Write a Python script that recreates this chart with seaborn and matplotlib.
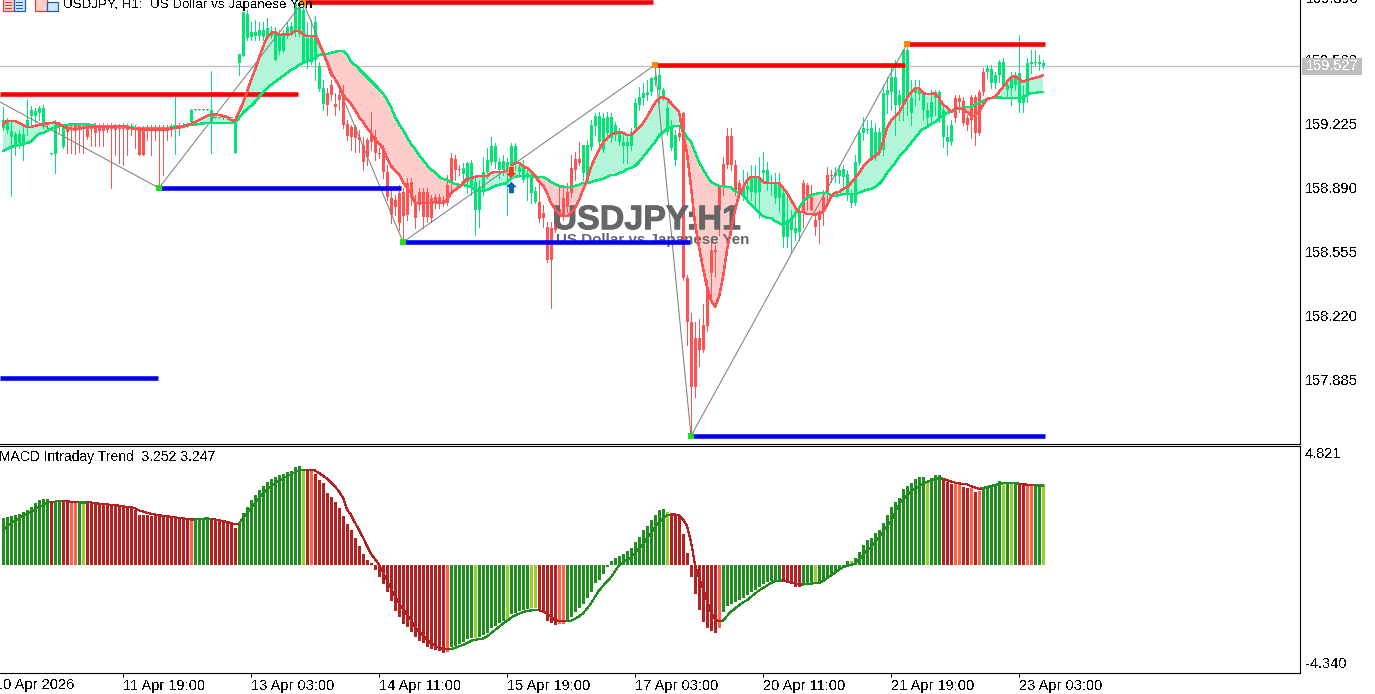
import numpy as np
import seaborn as sns
import matplotlib
matplotlib.use('Agg')
import matplotlib.pyplot as plt
import matplotlib.patheffects as pe
from matplotlib.patches import Rectangle

open_ = [
159.204,159.194,159.157,159.115,159.126,159.126,159.215,159.267,159.267,159.283,
159.209,159.230,159.068,159.068,159.225,159.105,159.209,159.204,159.220,159.220,
159.215,159.209,159.215,159.204,159.215,159.209,159.209,159.215,159.209,159.215,
159.215,159.209,159.209,159.209,159.194,159.194,159.209,159.209,159.209,159.209,
159.209,159.209,159.215,159.204,159.204,159.209,159.215,159.235,159.298,159.298,
159.298,159.298,159.230,159.256,159.256,159.256,159.256,159.256,159.073,159.544,
159.581,159.675,159.680,159.686,159.686,159.680,159.680,159.686,159.560,159.607,
159.607,159.691,159.701,159.717,159.696,159.544,159.549,159.549,159.560,159.408,
159.330,159.387,159.429,159.330,159.377,159.377,159.225,159.209,159.209,159.157,
159.115,159.141,159.167,159.157,159.073,159.099,158.974,158.838,158.827,158.864,
158.869,158.916,158.921,158.811,158.869,158.869,158.869,158.838,158.843,158.843,
158.827,158.906,159.047,159.042,158.989,158.963,158.921,158.890,158.775,158.775,
158.880,158.974,159.026,159.026,158.984,158.984,158.984,158.995,159.021,158.974,
158.932,158.942,158.864,158.817,158.817,158.759,158.686,158.681,158.780,158.780,
158.838,158.869,158.995,159.042,159.042,158.969,158.932,159.105,159.215,159.131,
159.089,159.178,159.152,159.167,159.131,159.110,159.110,159.110,159.204,159.324,
159.361,159.377,159.392,159.455,159.403,159.366,159.183,159.099,159.037,159.178,
159.283,158.419,158.189,158.105,158.105,158.173,158.372,158.565,158.565,158.895,
159.016,159.162,159.162,159.010,158.916,158.843,158.880,158.869,158.864,158.869,
158.969,158.921,158.911,158.838,158.838,158.634,158.634,158.670,158.654,158.660,
158.916,158.906,158.843,158.723,158.764,158.843,158.958,158.958,158.953,158.953,
158.948,158.853,158.811,158.811,159.021,159.178,159.194,159.047,159.052,159.078,
159.089,159.377,159.392,159.324,159.324,159.324,159.361,159.283,159.387,159.382,
159.298,159.256,159.262,159.361,159.256,159.157,159.131,159.131,159.361,159.361,
159.345,159.256,159.366,159.366,159.392,159.497,159.497,159.440,159.440,159.481,
159.429,159.403,159.413,159.429,159.335,159.335,159.377,159.539,159.544,159.539,
159.529]
close = [
159.246,159.235,159.188,159.173,159.173,159.173,159.246,159.298,159.293,159.309,
159.309,159.220,159.073,159.220,159.215,159.215,159.183,159.194,159.204,159.204,
159.199,159.157,159.199,159.178,159.188,159.188,159.194,159.199,159.194,159.199,
159.199,159.194,159.199,159.194,159.063,159.063,159.194,159.194,159.194,159.194,
159.194,159.199,159.199,159.220,159.220,159.220,159.225,159.298,159.303,159.303,
159.303,159.303,159.298,159.262,159.262,159.262,159.262,159.262,159.230,159.591,
159.811,159.801,159.706,159.706,159.717,159.717,159.727,159.712,159.701,159.691,
159.686,159.733,159.738,159.853,159.832,159.822,159.675,159.680,159.759,159.529,
159.413,159.324,159.377,159.314,159.351,159.220,159.162,159.157,159.152,159.141,
159.026,159.052,159.131,159.073,159.068,158.974,158.843,158.749,158.791,158.707,
158.743,158.749,158.838,158.733,158.801,158.738,158.738,158.733,158.811,158.811,
158.811,158.811,158.916,158.984,158.984,158.995,159.021,159.021,158.921,158.895,
158.974,159.037,159.110,159.110,159.026,159.031,159.026,159.110,159.110,159.000,
159.010,158.969,158.948,158.874,158.728,158.733,158.513,158.513,158.670,158.738,
158.738,158.791,158.864,158.984,159.021,159.115,159.115,159.220,159.267,159.267,
159.256,159.262,159.262,159.220,159.178,159.131,159.131,159.183,159.335,159.366,
159.387,159.392,159.466,159.471,159.481,159.403,159.309,159.209,159.167,159.157,
158.419,158.189,157.848,157.848,158.042,158.042,158.168,158.445,158.555,158.775,
158.906,159.010,159.010,158.880,158.864,158.890,158.901,158.948,158.948,158.948,
158.984,158.984,158.916,158.916,158.921,158.864,158.723,158.723,158.681,158.759,
158.759,158.838,158.775,158.686,158.723,158.764,158.864,158.953,158.969,158.984,
158.989,158.963,158.864,159.026,159.178,159.204,159.199,159.204,159.183,159.183,
159.387,159.403,159.471,159.471,159.377,159.612,159.612,159.361,159.419,159.413,
159.382,159.298,159.340,159.392,159.392,159.298,159.157,159.220,159.256,159.340,
159.230,159.220,159.246,159.178,159.178,159.392,159.518,159.513,159.481,159.549,
159.549,159.429,159.466,159.466,159.492,159.377,159.544,159.549,159.549,159.549,
159.544]
high = [
159.314,159.256,159.235,159.183,159.194,159.220,159.356,159.319,159.309,159.319,
159.324,159.235,159.073,159.246,159.235,159.220,159.220,159.220,159.225,159.225,
159.225,159.225,159.225,159.230,159.225,159.230,159.225,159.230,159.225,159.225,
159.230,159.225,159.225,159.220,159.215,159.215,159.220,159.220,159.220,159.220,
159.220,159.220,159.225,159.366,159.230,159.230,159.230,159.303,159.303,159.303,
159.303,159.303,159.502,159.262,159.262,159.256,159.256,159.246,159.235,159.591,
159.811,159.822,159.759,159.769,159.759,159.759,159.780,159.738,159.733,159.717,
159.717,159.759,159.759,159.874,159.874,159.864,159.759,159.769,159.790,159.549,
159.455,159.413,159.455,159.387,159.403,159.429,159.246,159.220,159.220,159.194,
159.157,159.152,159.288,159.194,159.099,159.115,159.010,158.880,158.853,158.906,
158.890,158.942,158.942,158.853,158.890,158.890,158.890,158.853,158.858,158.858,
158.848,158.958,159.073,159.063,159.010,159.021,159.026,159.037,158.942,158.932,
159.052,159.099,159.157,159.126,159.047,159.063,159.047,159.126,159.126,159.010,
159.037,158.995,158.974,158.895,158.921,158.801,158.712,158.712,158.801,158.895,
158.906,158.916,159.063,159.078,159.131,159.115,159.141,159.246,159.283,159.288,
159.283,159.288,159.283,159.235,159.204,159.183,159.167,159.204,159.361,159.419,
159.440,159.455,159.471,159.497,159.518,159.413,159.351,159.246,159.194,159.220,
159.288,158.435,158.236,158.189,158.204,158.283,158.408,158.618,158.592,158.906,
159.052,159.204,159.204,159.037,158.932,158.984,158.974,159.010,159.010,159.052,
159.078,159.026,158.958,158.969,158.969,158.880,158.843,158.775,158.775,158.801,
158.932,158.916,158.906,158.749,158.775,158.880,159.000,158.984,159.000,159.010,
159.010,158.984,158.880,159.063,159.194,159.262,159.246,159.246,159.230,159.204,
159.429,159.471,159.518,159.560,159.403,159.612,159.644,159.455,159.455,159.455,
159.387,159.335,159.403,159.403,159.403,159.324,159.220,159.246,159.377,159.377,
159.366,159.272,159.377,159.377,159.403,159.518,159.534,159.534,159.497,159.560,
159.570,159.455,159.497,159.497,159.691,159.429,159.570,159.612,159.612,159.586,
159.560]
low = [
159.194,159.178,158.848,159.063,159.099,159.037,159.167,159.220,159.235,159.246,
159.204,159.194,159.068,158.969,159.183,159.099,159.073,159.073,159.068,159.078,
159.073,159.146,159.110,159.110,159.110,159.110,159.183,158.890,159.063,159.021,
159.010,159.063,159.167,159.099,159.063,159.063,159.141,159.063,159.141,158.890,
158.958,159.141,159.162,159.068,159.167,159.209,159.209,159.235,159.298,159.298,
159.298,159.298,159.073,159.256,159.256,159.251,159.251,159.241,159.073,159.481,
159.581,159.665,159.665,159.665,159.665,159.665,159.670,159.675,159.560,159.591,
159.602,159.675,159.691,159.686,159.686,159.544,159.518,159.539,159.455,159.398,
159.298,159.272,159.351,159.272,159.298,159.204,159.141,159.089,159.078,159.078,
158.984,159.010,159.089,159.037,159.047,158.942,158.827,158.707,158.749,158.670,
158.618,158.723,158.801,158.681,158.775,158.681,158.712,158.712,158.785,158.785,
158.796,158.801,158.880,158.932,158.958,158.906,158.864,158.853,158.644,158.686,
158.853,158.942,159.010,158.995,158.942,158.958,158.749,158.948,158.984,158.948,
158.921,158.827,158.811,158.811,158.712,158.686,158.503,158.262,158.660,158.723,
158.723,158.764,158.843,158.932,159.010,158.932,158.916,159.089,159.167,159.115,
159.078,159.141,159.131,159.141,159.115,159.021,159.021,159.089,159.194,159.298,
159.324,159.351,159.377,159.429,159.335,159.351,159.167,159.089,159.010,159.141,
158.408,158.068,157.608,157.796,157.958,158.032,158.142,158.320,158.424,158.644,
158.853,158.995,158.984,158.853,158.838,158.827,158.827,158.827,158.791,158.733,
158.932,158.880,158.853,158.811,158.764,158.581,158.581,158.555,158.618,158.618,
158.686,158.775,158.775,158.644,158.602,158.696,158.827,158.921,158.921,158.916,
158.880,158.827,158.791,158.801,159.010,159.141,159.178,159.037,159.037,159.063,
159.063,159.283,159.298,159.167,159.246,159.246,159.272,159.220,159.324,159.351,
159.246,159.220,159.220,159.272,159.235,159.105,159.063,159.115,159.235,159.288,
159.220,159.194,159.152,159.115,159.167,159.377,159.466,159.413,159.413,159.445,
159.413,159.366,159.324,159.403,159.288,159.288,159.340,159.492,159.529,159.508,
159.518]

fast_ma = [
159.220,159.241,159.241,159.241,159.230,159.220,159.209,159.209,159.215,159.220,
159.225,159.228,159.230,159.233,159.225,159.215,159.204,159.199,159.196,159.199,
159.204,159.209,159.209,159.209,159.209,159.209,159.209,159.209,159.212,159.215,
159.215,159.209,159.204,159.199,159.196,159.196,159.196,159.196,159.196,159.196,
159.196,159.196,159.201,159.204,159.207,159.209,159.220,159.225,159.235,159.246,
159.256,159.267,159.275,159.275,159.272,159.267,159.262,159.246,159.241,159.288,
159.335,159.392,159.455,159.508,159.570,159.628,159.680,159.701,159.706,159.691,
159.693,159.693,159.696,159.712,159.712,159.696,159.686,159.686,159.686,159.644,
159.602,159.549,159.487,159.461,159.424,159.382,159.351,159.330,159.298,159.262,
159.235,159.204,159.178,159.141,159.126,159.094,159.047,159.005,158.984,158.963,
158.921,158.890,158.864,158.811,158.811,158.811,158.811,158.811,158.817,158.811,
158.811,158.827,158.864,158.880,158.895,158.916,158.937,158.942,158.948,158.953,
158.953,158.953,158.969,158.974,158.974,158.974,158.974,159.000,159.021,159.021,
159.005,158.995,158.974,158.958,158.921,158.906,158.864,158.811,158.780,158.754,
158.743,158.743,158.759,158.785,158.827,158.880,158.932,159.000,159.047,159.089,
159.126,159.152,159.167,159.178,159.183,159.178,159.167,159.167,159.188,159.209,
159.230,159.262,159.298,159.335,159.361,159.366,159.356,159.335,159.309,159.288,
159.178,159.073,158.895,158.707,158.581,158.471,158.372,158.304,158.267,158.320,
158.424,158.565,158.670,158.775,158.853,158.890,158.932,158.948,158.948,158.948,
158.921,158.916,158.916,158.916,158.916,158.890,158.864,158.827,158.791,158.764,
158.764,158.754,158.754,158.749,158.759,158.764,158.801,158.843,158.864,158.869,
158.885,158.895,158.916,158.942,158.969,159.000,159.026,159.042,159.057,159.073,
159.131,159.204,159.241,159.262,159.283,159.324,159.361,159.392,159.413,159.413,
159.387,159.382,159.382,159.387,159.361,159.324,159.314,159.288,159.303,159.309,
159.303,159.288,159.267,159.267,159.288,159.324,159.356,159.361,159.366,159.392,
159.419,159.445,159.471,159.476,159.461,159.445,159.455,159.461,159.466,159.471,
159.481]
slow_ma = [
159.084,159.094,159.105,159.110,159.115,159.120,159.126,159.131,159.157,159.173,
159.178,159.188,159.199,159.207,159.212,159.217,159.220,159.223,159.225,159.225,
159.225,159.223,159.220,159.215,159.212,159.212,159.212,159.212,159.212,159.212,
159.212,159.212,159.209,159.204,159.201,159.201,159.201,159.201,159.201,159.201,
159.201,159.201,159.209,159.212,159.215,159.215,159.217,159.220,159.223,159.225,
159.228,159.230,159.230,159.230,159.230,159.230,159.230,159.230,159.230,159.256,
159.283,159.303,159.319,159.340,159.366,159.392,159.413,159.429,159.445,159.461,
159.476,159.492,159.508,159.518,159.534,159.544,159.555,159.560,159.570,159.586,
159.591,159.591,159.597,159.602,159.607,159.607,159.591,159.549,159.534,159.513,
159.492,159.471,159.450,159.429,159.408,159.387,159.351,159.314,159.262,159.225,
159.194,159.157,159.120,159.094,159.063,159.037,159.010,158.989,158.969,158.948,
158.937,158.932,158.921,158.911,158.906,158.906,158.901,158.895,158.880,158.874,
158.874,158.880,158.890,158.901,158.906,158.911,158.916,158.942,158.948,158.953,
158.953,158.953,158.953,158.948,158.948,158.948,158.937,158.921,158.911,158.901,
158.895,158.895,158.895,158.901,158.906,158.916,158.916,158.921,158.927,158.932,
158.937,158.948,158.958,158.958,158.969,158.974,158.989,158.995,159.005,159.026,
159.052,159.078,159.105,159.131,159.162,159.183,159.199,159.209,159.215,159.215,
159.194,159.152,159.131,159.078,159.026,158.989,158.953,158.921,158.911,158.901,
158.901,158.895,158.895,158.874,158.864,158.853,158.827,158.801,158.785,158.759,
158.743,158.733,158.733,158.717,158.707,158.696,158.707,158.723,158.754,158.785,
158.817,158.838,158.853,158.858,158.864,158.864,158.864,158.853,158.848,158.853,
158.858,158.858,158.858,158.858,158.864,158.874,158.880,158.885,158.895,158.911,
158.932,158.969,158.995,159.021,159.052,159.078,159.099,159.126,159.152,159.178,
159.199,159.209,159.225,159.235,159.256,159.267,159.283,159.288,159.298,159.309,
159.309,159.314,159.314,159.324,159.335,159.345,159.356,159.361,159.361,159.366,
159.361,159.361,159.361,159.361,159.361,159.361,159.377,159.387,159.387,159.392,
159.392]

macd_hist = [
1.89,1.93,2.01,2.03,2.09,2.17,2.25,2.36,2.53,2.62,
2.66,2.66,2.56,2.60,2.62,2.60,2.58,2.54,2.54,2.54,
2.54,2.57,2.56,2.49,2.49,2.46,2.46,2.44,2.42,2.41,
2.36,2.33,2.30,2.22,2.05,2.03,2.02,2.01,1.98,1.97,
1.94,1.94,1.91,1.90,1.90,1.85,1.85,1.82,1.83,1.86,
1.89,1.89,1.82,1.83,1.79,1.74,1.73,1.69,1.49,1.73,
2.12,2.36,2.64,2.84,3.03,3.20,3.35,3.48,3.56,3.63,
3.68,3.76,3.80,3.96,4.00,3.83,3.83,3.80,3.69,3.44,
3.31,2.93,2.76,2.54,2.32,1.99,1.67,1.43,1.10,0.79,
0.47,0.21,0.08,-0.21,-0.46,-0.75,-1.10,-1.46,-1.85,-2.09,
-2.38,-2.50,-2.69,-2.89,-3.07,-3.16,-3.31,-3.37,-3.45,-3.49,
-3.55,-3.51,-3.32,-3.25,-3.19,-3.12,-2.99,-2.95,-2.96,-2.89,
-2.84,-2.73,-2.52,-2.45,-2.34,-2.26,-2.20,-1.99,-1.93,-1.86,
-1.81,-1.77,-1.75,-1.75,-1.82,-1.91,-2.25,-2.33,-2.41,-2.38,
-2.38,-2.20,-2.09,-1.90,-1.75,-1.58,-1.33,-1.08,-0.74,-0.58,
-0.36,-0.08,0.15,0.31,0.39,0.47,0.56,0.71,0.92,1.15,
1.42,1.58,1.83,2.05,2.24,2.26,2.16,2.03,2.01,1.98,
1.27,0.51,-0.48,-1.18,-1.82,-2.29,-2.53,-2.66,-2.73,-2.54,
-1.90,-1.66,-1.58,-1.50,-1.42,-1.31,-1.22,-1.08,-0.99,-0.90,
-0.78,-0.67,-0.62,-0.58,-0.55,-0.62,-0.72,-0.76,-0.88,-0.88,
-0.75,-0.72,-0.72,-0.68,-0.68,-0.66,-0.51,-0.37,-0.25,-0.15,
-0.03,0.15,0.16,0.29,0.55,0.80,1.00,1.12,1.30,1.43,
1.70,2.03,2.36,2.56,2.70,3.07,3.20,3.32,3.48,3.56,
3.56,3.37,3.53,3.64,3.64,3.51,3.35,3.27,3.29,3.29,
3.16,3.13,3.13,2.96,3.00,3.09,3.20,3.23,3.27,3.40,
3.32,3.31,3.31,3.31,3.27,3.24,3.21,3.21,3.24,3.24,
3.25]
macd_signal = [
1.42,1.55,1.69,1.79,1.90,1.99,2.09,2.17,2.25,2.36,
2.42,2.53,2.56,2.57,2.60,2.60,2.58,2.57,2.57,2.56,
2.56,2.56,2.54,2.50,2.49,2.47,2.46,2.44,2.43,2.41,
2.38,2.36,2.34,2.30,2.22,2.17,2.12,2.08,2.05,2.02,
2.00,1.98,1.96,1.93,1.92,1.89,1.87,1.85,1.85,1.86,
1.88,1.89,1.87,1.85,1.82,1.78,1.75,1.71,1.65,1.69,
1.90,2.10,2.32,2.52,2.72,2.90,3.05,3.20,3.32,3.42,
3.52,3.60,3.68,3.76,3.84,3.86,3.86,3.85,3.83,3.73,
3.62,3.50,3.35,3.18,2.98,2.73,2.26,2.03,1.72,1.42,
1.12,0.78,0.46,0.25,0.03,-0.30,-0.62,-0.95,-1.25,-1.55,
-1.78,-2.00,-2.22,-2.48,-2.68,-2.85,-3.02,-3.16,-3.26,-3.34,
-3.39,-3.40,-3.39,-3.34,-3.28,-3.23,-3.15,-3.06,-3.02,-2.99,
-2.97,-2.88,-2.75,-2.62,-2.49,-2.36,-2.25,-2.13,-2.03,-1.96,
-1.90,-1.85,-1.83,-1.82,-1.82,-1.87,-1.95,-2.10,-2.22,-2.25,
-2.26,-2.26,-2.25,-2.17,-2.07,-1.95,-1.75,-1.55,-1.28,-1.02,
-0.84,-0.66,-0.48,-0.25,-0.01,0.12,0.22,0.32,0.50,0.68,
0.86,1.08,1.30,1.53,1.72,1.90,2.02,2.05,2.05,2.03,
1.85,1.59,0.95,0.02,-0.50,-0.95,-1.45,-1.90,-2.20,-2.26,
-2.25,-2.05,-1.88,-1.75,-1.62,-1.50,-1.42,-1.28,-1.15,-1.02,
-0.92,-0.82,-0.72,-0.64,-0.62,-0.62,-0.66,-0.70,-0.74,-0.78,
-0.78,-0.76,-0.74,-0.73,-0.72,-0.64,-0.52,-0.41,-0.30,-0.18,
-0.08,-0.02,0.02,0.05,0.22,0.42,0.60,0.72,0.92,1.12,
1.35,1.58,1.79,2.12,2.46,2.66,2.84,2.98,3.10,3.20,
3.30,3.37,3.43,3.49,3.53,3.50,3.44,3.38,3.34,3.31,
3.29,3.27,3.20,3.14,3.09,3.12,3.16,3.20,3.24,3.28,
3.32,3.33,3.33,3.33,3.30,3.27,3.26,3.25,3.25,3.25,
3.25]
# one letter per bar: G green, L light green, R red, O orange
hist_state = ('GGGGGGGGGGGGRGGRROOGL' + 'R' * 26 + 'O' + 'GGGG' + 'R' * 7 + 'G' * 16 + 'LRO'
              + 'R' * 33 + 'O' + 'G' * 6 + 'L' + 'G' * 7 + 'L' + 'G' * 5 + 'LL' + 'RRRRR' + 'OO'
              + 'G' * 25 + 'L' + 'R' * 12 + 'O' + 'G' * 15 + 'RRRRR' + 'GGG' + 'L' + 'G' * 8 + 'L'
              + 'G' * 18 + 'L' + 'GGG' + 'RRR' + 'OO' + 'RR' + 'O' + 'R' + 'O' + 'GGGGG' + 'LGLG'
              + 'RROOGGL')

# zigzag turning points and the levels drawn from them
zig_bar = [-0.75, 39, 75, 100, 163, 172, 226]
zig_price = [159.340, 158.890, 159.864, 158.607, 159.534, 157.592, 159.644]
res_start = [-0.75, 75, 163.5, 226.5]
res_end = [73.75, 162.5, 225.5, 260.5]
res_price = [159.382, 159.864, 159.534, 159.644]
sup_start = [-0.75, 39, 100, 172]
sup_end = [38.75, 99.5, 171.75, 260.5]
sup_price = [157.896, 158.890, 158.607, 157.592]

last_price = 159.527
price_ticks = [157.885, 158.220, 158.555, 158.890, 159.225, 159.560]
macd_ticks = [4.821, -4.340]
time_ticks = [30, 62, 94, 126, 158, 190, 222, 254]
time_labels = ['11 Apr 19:00', '13 Apr 03:00', '14 Apr 11:00', '15 Apr 19:00',
               '17 Apr 03:00', '20 Apr 11:00', '21 Apr 19:00', '23 Apr 03:00']

UP = '#00E676'
DOWN = '#FF5252'
HIST_COLORS = {'G': '#228B22', 'L': '#9ACD32', 'R': '#B22222', 'O': '#FF6347'}

sns.set_style('white')
plt.rcParams['font.family'] = ['Liberation Sans', 'DejaVu Sans']
plt.rcParams['text.antialiased'] = False

W, H = 1375, 694
fig = plt.figure(figsize=(W / 100, H / 100), dpi=100, facecolor='white')
ax = fig.add_axes([0, 1 - 444 / H, 1299.5 / W, 444 / H])
ax2 = fig.add_axes([0, 1 - 672.5 / H, 1299.5 / W, (672.5 - 446) / H])

bars = np.arange(len(close))
o, c, hi, lo = map(np.array, (open_, close, high, low))
fast, slow = np.array(fast_ma), np.array(slow_ma)
up = c >= o
colors = np.where(up, UP, DOWN)

ax.axhline(last_price, color='#C0C0C0', lw=1, zorder=0.5)
ax.fill_between(bars, fast, slow, where=fast >= slow, interpolate=True, color='#B2F5D8', lw=0, zorder=1)
ax.fill_between(bars, fast, slow, where=fast < slow, interpolate=True, color='#FFCCCC', lw=0, zorder=1)

ax.vlines(bars, lo, hi, colors=colors, lw=0.6, zorder=2, antialiased=False)
ax.bar(bars, np.maximum(np.abs(c - o), 0.005), bottom=np.minimum(o, c), width=0.75,
       color=colors, lw=0, zorder=2.1, antialiased=False)

sns.lineplot(x=zig_bar, y=zig_price, color='#808080', linewidth=0.75, sort=False, estimator=None, ax=ax, zorder=2.5)

bold_stroke = [pe.withStroke(linewidth=0.7, foreground='#666666')]
ax.text(160.9, 158.719, 'USDJPY:H1', color='#666666', fontsize=24.5, fontweight='bold',
        ha='center', va='center', zorder=2.8, antialiased=True, path_effects=bold_stroke)
ax.text(162.5, 158.618, 'US Dollar vs Japanese Yen', color='#666666', fontsize=10.9, fontweight='bold',
        ha='center', va='center', zorder=2.8, antialiased=True)

ax.hlines(res_price, res_start, res_end, colors='#FF0000', lw=3.3, zorder=3)
ax.hlines(sup_price, sup_start, sup_end, colors='#0000FF', lw=3.3, zorder=3)

sns.lineplot(x=bars, y=slow, color=UP, linewidth=1.05, ax=ax, estimator=None, zorder=4, antialiased=False)
sns.lineplot(x=bars, y=fast, color=DOWN, linewidth=1.05, ax=ax, estimator=None, zorder=4.1, antialiased=False)

peak = [p > 159 for p in zig_price]
sns.scatterplot(x=zig_bar[1:], y=zig_price[1:], c=['#FF8C00' if k else '#22DD22' for k in peak[1:]],
                marker='s', s=16, linewidth=0, ax=ax, zorder=4.5)

# trade arrows at the crossing bar
down_arrow = [(-1, 0), (-0.45, 0), (-0.45, 1), (0.45, 1), (0.45, 0), (1, 0), (0, -1)]
up_arrow = [(-1, 0), (-0.45, 0), (-0.45, -1), (0.45, -1), (0.45, 0), (1, 0), (0, 1)]
ax.scatter([127], [158.974], marker=down_arrow, s=75, color='#E8401C', edgecolors='white', lw=0.4, zorder=5)
ax.scatter([127], [158.895], marker=up_arrow, s=75, color='#1060B0', edgecolors='white', lw=0.4, zorder=5)

ax.set_xlim(-0.75, 324.125)
ax.set_ylim(157.550, 159.874)
ax.yaxis.tick_right()
ax.set_yticks(price_ticks, [f'{t:.3f}' for t in price_ticks])
ax.set_xticks([])
ax.set_xlabel('')
ax.set_ylabel('')
ax.tick_params(axis='y', length=2.5, width=0.75, pad=1.5, labelsize=10.5, colors='black', right=True)
sns.despine(ax=ax, left=True, top=True, right=False, bottom=False)
for s in ('right', 'bottom'):
    ax.spines[s].set_color('black')
    ax.spines[s].set_linewidth(0.8)

# MACD panel
ax2.bar(bars, macd_hist, width=0.75, color=[HIST_COLORS[k] for k in hist_state], lw=0, zorder=2, antialiased=False)
line_green = [k in 'GL' for k in hist_state]
sig = np.array(macd_signal)
start = 0
for i in range(1, len(sig) + 1):
    if i == len(sig) or line_green[i] != line_green[start]:
        stop = min(i + 1, len(sig))
        sns.lineplot(x=bars[start:stop], y=sig[start:stop], linewidth=0.85, estimator=None, ax=ax2, zorder=3,
                     color=HIST_COLORS['G'] if line_green[start] else HIST_COLORS['R'], antialiased=False)
        start = i

ax2.set_xlim(-0.75, 324.125)
ax2.set_ylim(-4.340, 4.821)
ax2.yaxis.tick_right()
ax2.set_yticks(macd_ticks, ['', ''])
ax2.set_xticks(time_ticks, time_labels, ha='left')
ax2.set_xlabel('')
ax2.set_ylabel('')
ax2.tick_params(axis='y', length=2.5, width=0.75, colors='black', right=True)
ax2.tick_params(axis='x', length=3, width=0.75, pad=1.5, labelsize=10.5, colors='black', bottom=True)
sns.despine(ax=ax2, left=True, top=False, right=False, bottom=False)
for s in ('right', 'bottom', 'top'):
    ax2.spines[s].set_color('black')
    ax2.spines[s].set_linewidth(0.8)

# things outside the data areas, placed in pixels
def px_text(x, y, s, **kw):
    fig.text(x / W, 1 - y / H, s, va='center', **kw)

def px_box(x0, y0, x1, y1, **kw):
    fig.add_artist(Rectangle((x0 / W, 1 - y1 / H), (x1 - x0) / W, (y1 - y0) / H, transform=fig.transFigure, **kw))

px_text(63, 5, 'USDJPY, H1:  US Dollar vs Japanese Yen', fontsize=9.6, color='black')
px_text(-1, 457, 'MACD Intraday Trend  3.252 3.247', fontsize=10, color='black')
px_text(-5, 685, '10 Apr 2026', fontsize=10.5, color='black')
px_text(1306, -1, '159.895', fontsize=10.5, color='black')
px_text(1305, 454, '4.821', fontsize=10.5, color='black')
px_text(1305, 664, '-4.340', fontsize=10.5, color='black')

px_box(1302, 58, 1362, 75, color='#BEBEBE', lw=0, zorder=6)
px_text(1306, 66.5, '159.527', fontsize=10.5, color='white', zorder=7)

# toolbar icons at the top left
px_box(3, -2, 14, 11, facecolor='#FFD0C8', edgecolor='#D84040', lw=0.9, zorder=6)
px_box(14, -2, 25, 11, facecolor='#CFE6FF', edgecolor='#2060B0', lw=0.9, zorder=6)
for row in (2, 5, 8):
    px_box(5, row, 12, row + 1, color='#D84040', lw=0, zorder=7)
    px_box(16, row, 23, row + 1, color='#2060B0', lw=0, zorder=7)
px_box(35, -2, 47, 11, facecolor='#FFD0C8', edgecolor='#D84040', lw=0.9, zorder=6)
px_box(47, 2, 58, 11, facecolor='#CFE6FF', edgecolor='#2060B0', lw=0.9, zorder=6)

fig.savefig('out.png', dpi=100)
